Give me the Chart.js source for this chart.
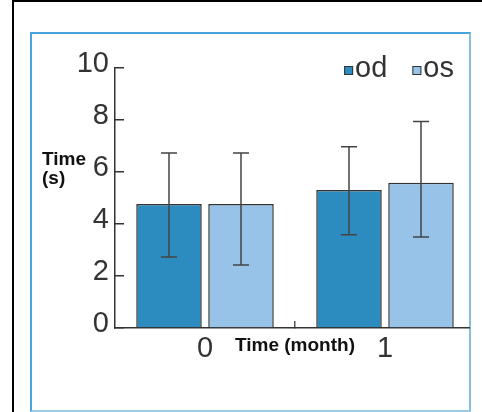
<!DOCTYPE html>
<html><head><meta charset="utf-8">
<script src="https://cdn.jsdelivr.net/npm/chart.js@4"></script>
<style>
html,body{margin:0;padding:0;background:#fff;width:482px;height:412px;overflow:hidden}
#frame{position:absolute;left:12px;top:0;width:480px;height:420px;border-top:2px solid #000;border-left:2px solid #000;box-sizing:border-box}
#box{position:absolute;left:30px;top:32px;width:441px;height:380px;border:2px solid #4aa3da;border-right-color:#86c0e0;border-bottom-color:#9ccbe6;box-sizing:border-box}
#wrap{position:absolute;left:0;top:0;width:470px;height:412px;overflow:hidden}
canvas{display:block}
</style></head><body>
<div id="frame"></div><div id="box"></div>
<div id="wrap"><canvas id="c" width="482" height="412"></canvas></div>
<script>
const categories = ['0', '1'];
const seriesLabels = ['od', 'os'];
const odValues = [4.77, 5.31];
const osValues = [4.77, 5.59];
const odLow = [2.73, 3.59];
const odHigh = [6.73, 6.97];
const osLow = [2.42, 3.50];
const osHigh = [6.73, 7.94];
const yTicks = [0, 2, 4, 6, 8, 10];
const yTitle = ['Time', '(s)'];
const xTitle = 'Time (month)';

const colors = ['#2c8bbf', '#98c3e8'];
const errLow = [odLow, osLow];
const errHigh = [odHigh, osHigh];
const tickFont = {family: '"Liberation Sans", Arial, sans-serif', size: 29, weight: '400'};
const titleFont = 'bold 19px "Liberation Sans", Arial, sans-serif';

const errorBars = {
  id: 'errorBars',
  afterDatasetsDraw(chart) {
    const ctx = chart.ctx, y = chart.scales.y;
    ctx.save();
    ctx.strokeStyle = '#444';
    ctx.lineWidth = 1.5;
    chart.data.datasets.forEach((ds, i) => {
      chart.getDatasetMeta(i).data.forEach((el, j) => {
        const x = el.x;
        const yh = y.getPixelForValue(errHigh[i][j]);
        const yl = y.getPixelForValue(errLow[i][j]);
        ctx.beginPath();
        ctx.moveTo(x, yh); ctx.lineTo(x, yl);
        ctx.moveTo(x - 8, yh); ctx.lineTo(x + 8, yh);
        ctx.moveTo(x - 8, yl); ctx.lineTo(x + 8, yl);
        ctx.stroke();
      });
    });
    ctx.restore();
  }
};

const extras = {
  id: 'extras',
  afterDraw(chart) {
    const ctx = chart.ctx, a = chart.chartArea;
    ctx.save();
    ctx.fillStyle = '#111';
    ctx.font = titleFont;
    ctx.textAlign = 'left';
    ctx.textBaseline = 'alphabetic';
    ctx.fillText(yTitle[0], 42, 165);
    ctx.fillText(yTitle[1], 42, 184);
    ctx.textAlign = 'center';
    ctx.fillText(xTitle, (a.left + a.right) / 2, 351);
    ctx.font = tickFont.weight + ' ' + tickFont.size + 'px ' + tickFont.family;
    ctx.textAlign = 'left';
    let right = a.right - 21;
    for (let i = seriesLabels.length - 1; i >= 0; i--) {
      const w = ctx.measureText(seriesLabels[i]).width;
      const tx = right - w;
      const sx = tx - 11;
      ctx.fillStyle = colors[i];
      ctx.fillRect(sx, a.top - 2, 9, 9);
      ctx.strokeStyle = '#333';
      ctx.lineWidth = 1;
      ctx.strokeRect(sx + 0.5, a.top - 1.5, 8, 8);
      ctx.fillStyle = '#333';
      ctx.fillText(seriesLabels[i], tx, a.top + 9);
      right = sx - 25;
    }
    ctx.restore();
  }
};

new Chart(document.getElementById('c'), {
  type: 'bar',
  data: {
    labels: categories,
    datasets: [
      {label: seriesLabels[0], data: odValues, backgroundColor: colors[0], borderColor: '#333', borderWidth: 1.5},
      {label: seriesLabels[1], data: osValues, backgroundColor: colors[1], borderColor: '#333', borderWidth: 1.5}
    ]
  },
  options: {
    responsive: false,
    animation: false,
    devicePixelRatio: 1,
    categoryPercentage: 0.8,
    barPercentage: 0.91,
    layout: {padding: {left: 0, top: 68, right: 7, bottom: 0}},
    plugins: {legend: {display: false}, tooltip: {enabled: false}},
    scales: {
      x: {
        afterFit(s) { s.height = 84; },
        grid: {drawOnChartArea: false, tickLength: -7, lineWidth: 1.5,
               color: c => c.index === 1 ? '#555' : 'rgba(0,0,0,0)'},
        border: {color: '#333', width: 1.5},
        ticks: {font: tickFont, color: '#333', padding: 11}
      },
      y: {
        min: 0, max: 10,
        afterFit(s) { s.width = 115; },
        afterBuildTicks(s) { s.ticks = yTicks.map(v => ({value: v})); },
        grid: {drawOnChartArea: false, tickLength: -9, lineWidth: 1.5, color: '#333'},
        border: {color: '#333', width: 1.5},
        ticks: {font: tickFont, color: '#333', padding: 15, labelOffset: -4}
      }
    }
  },
  plugins: [errorBars, extras]
});
</script>
</body></html>
